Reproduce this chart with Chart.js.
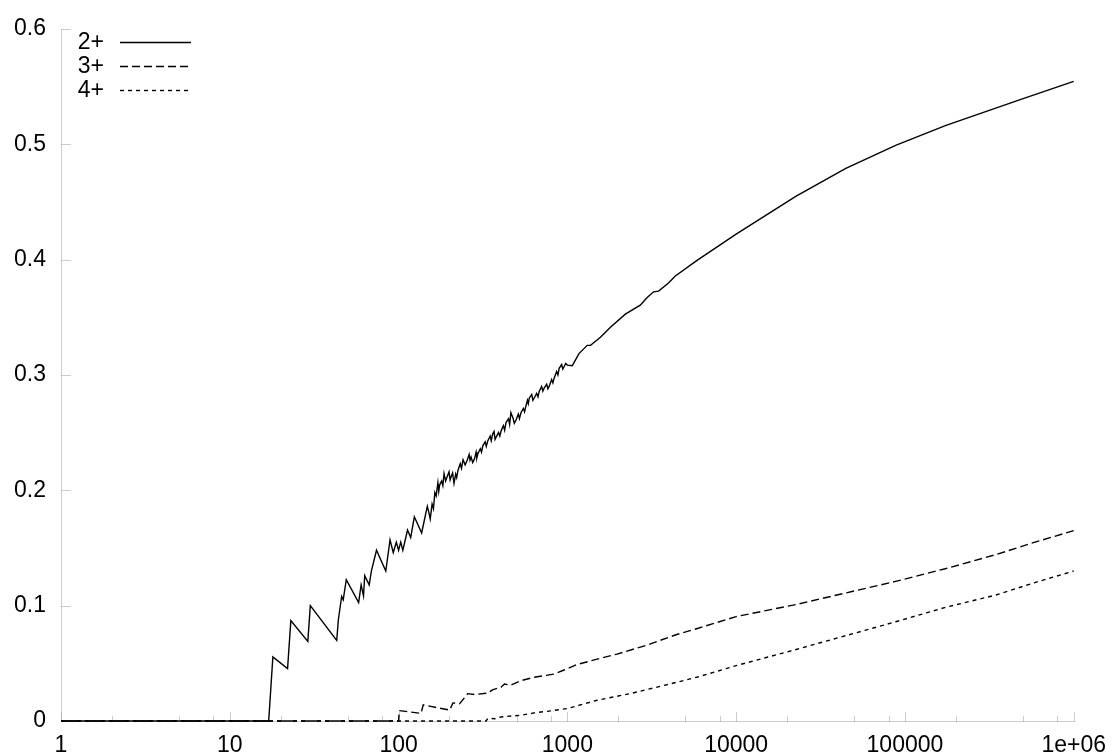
<!DOCTYPE html>
<html>
<head>
<meta charset="utf-8">
<script src="https://cdn.jsdelivr.net/npm/chart.js@4/dist/chart.umd.min.js"></script>
<style>
  html, body { margin: 0; padding: 0; background: #fff; }
  #c { display: block; }
</style>
</head>
<body>
<canvas id="c" width="1117" height="755"></canvas>
<script>
// ---- data ----
const seriesLabels = ["2+", "3+", "4+"];

const x2 = [1, 17, 18, 22, 23, 29, 30, 43, 44, 46, 47, 49, 58, 60, 62, 63, 67, 69, 74, 84, 89, 93, 97, 100, 103, 106, 113, 118, 124, 137,
  148, 151, 154, 158, 161, 164, 167, 171, 173, 175, 180, 183, 186, 190, 194, 199, 202, 205, 209, 213, 218, 221, 225, 232, 236, 241, 248, 255,
  262, 265, 269, 275, 282, 288, 291, 295, 305, 310, 316, 326, 331, 338, 349, 354, 361, 368, 373, 378, 391, 398, 405, 418, 425, 433, 448, 455,
  463, 478, 485, 496, 512, 520, 531, 549, 558, 568, 580, 587, 595, 615, 625, 636, 658, 670, 681, 704, 716, 729, 754, 767, 780, 807, 821, 835,
  864, 879, 894, 925, 940, 956, 978, 1000, 1070, 1172, 1312, 1372, 1571, 1800, 2206, 2704, 2961, 3243, 3470, 3976, 4346, 5838, 10000, 22680,
  44670, 88080, 173600, 491600, 1000000];
const y2 = [0, 0, 0.0556, 0.0455, 0.087, 0.069, 0.100, 0.0698, 0.088, 0.108, 0.105, 0.1225, 0.1026, 0.118, 0.1085, 0.126, 0.118, 0.130, 0.148, 0.130, 0.157, 0.146, 0.155, 0.148, 0.155, 0.148, 0.1655, 0.159, 0.177, 0.163,
  0.186, 0.181, 0.175, 0.188, 0.184, 0.198, 0.195, 0.2066, 0.199, 0.2045, 0.208, 0.204, 0.2145, 0.208, 0.2117, 0.216, 0.209, 0.212, 0.215, 0.206, 0.214, 0.211, 0.2174, 0.223, 0.219, 0.2265, 0.222, 0.226,
  0.231, 0.226, 0.2288, 0.224, 0.2274, 0.233, 0.228, 0.2316, 0.236, 0.233, 0.2387, 0.242, 0.238, 0.243, 0.247, 0.243, 0.2487, 0.251, 0.244, 0.2459, 0.250, 0.247, 0.2515, 0.256, 0.252, 0.2587, 0.262, 0.257,
  0.2672, 0.262, 0.258, 0.2607, 0.266, 0.262, 0.2672, 0.271, 0.268, 0.2729, 0.278, 0.275, 0.280, 0.283, 0.278, 0.280, 0.284, 0.281, 0.2857, 0.290, 0.286, 0.2886, 0.292, 0.288, 0.290, 0.296, 0.293, 0.2972,
  0.303, 0.300, 0.3057, 0.309, 0.305, 0.3071, 0.310, 0.3085, 0.308, 0.3185, 0.3256, 0.3256, 0.3327, 0.3413, 0.3527, 0.3604, 0.3669, 0.372, 0.3726, 0.3797, 0.3855, 0.399, 0.422, 0.455,
  0.479, 0.499, 0.516, 0.539, 0.5544];

const x3 = [1, 100, 101, 136, 140, 201, 210, 230, 257, 282, 338, 360, 405, 424, 460, 531, 636, 729, 835, 956, 1145, 1502, 1970, 2961, 4449, 5838, 10000, 22680, 44670, 88080, 173600, 342200, 588800, 1000000];
const y3 = [0, 0, 0.009, 0.0066, 0.014, 0.0094, 0.0157, 0.015, 0.0237, 0.023, 0.0242, 0.027, 0.0293, 0.032, 0.031, 0.035, 0.0379, 0.0393, 0.0407, 0.0442, 0.049, 0.0536, 0.058, 0.0658, 0.075, 0.080, 0.0905, 0.101, 0.111, 0.121, 0.132, 0.144, 0.155, 0.165];

const x4 = [1, 330, 338, 371, 404, 531, 636, 797, 1000, 1502, 2351, 3729, 5838, 10000, 22680, 44670, 88080, 173600, 342200, 588800, 1000000];
const y4 = [0, 0, 0.0023, 0.002, 0.0035, 0.005, 0.007, 0.0088, 0.0108, 0.018, 0.0237, 0.0308, 0.0379, 0.048, 0.062, 0.074, 0.086, 0.0985, 0.109, 0.120, 0.130];

const xTickValues = [1, 10, 100, 1000, 10000, 100000, 1000000];
const xTickLabels = ["1", "10", "100", "1000", "10000", "100000", "1e+06"];
const xMinorFactors = [2, 5, 8];
const yTickValues = [0, 0.1, 0.2, 0.3, 0.4, 0.5, 0.6];
const yTickLabels = ["0", "0.1", "0.2", "0.3", "0.4", "0.5", "0.6"];

// ---- chart ----
const FONT = { family: "'Liberation Sans', Arial, sans-serif", size: 23 };
const dashes = [[], [8, 4], [4, 4]];

function pts(xs, ys) { return xs.map((x, i) => ({ x: x, y: ys[i] })); }

const allSeries = [pts(x2, y2), pts(x3, y3), pts(x4, y4)];

const axesPlugin = {
  id: 'gnuAxes',
  beforeDatasetsDraw(chart) {
    const ctx = chart.ctx;
    const xs = chart.scales.x, ys = chart.scales.y;
    const L = Math.round(xs.left) + 0.5, B = Math.round(ys.bottom) + 0.5, T = Math.round(ys.top) + 0.5;
    ctx.save();
    ctx.strokeStyle = '#9a9a9a';
    ctx.lineWidth = 1;
    ctx.setLineDash([1, 1]);
    ctx.beginPath();
    ctx.moveTo(L, T); ctx.lineTo(L, B);
    ctx.moveTo(L, B); ctx.lineTo(Math.round(xs.right) + 0.5, B);
    yTickValues.forEach(v => {
      const y = Math.round(ys.getPixelForValue(v)) + 0.5;
      ctx.moveTo(L, y); ctx.lineTo(L + 10, y);
    });
    xTickValues.forEach((v, i) => {
      const x = Math.round(xs.getPixelForValue(v)) + 0.5;
      ctx.moveTo(x, B); ctx.lineTo(x, B - 10);
      if (i < xTickValues.length - 1) {
        xMinorFactors.forEach(f => {
          const xm = Math.round(xs.getPixelForValue(v * f)) + 0.5;
          ctx.moveTo(xm, B); ctx.lineTo(xm, B - 6);
        });
      }
    });
    ctx.stroke();
    ctx.restore();
  },
  afterDatasetsDraw(chart) {
    const ctx = chart.ctx;
    ctx.save();
    ctx.font = FONT.size + "px " + FONT.family;
    ctx.fillStyle = '#000';
    ctx.textAlign = 'right';
    ctx.textBaseline = 'middle';
    chart.data.datasets.forEach((ds, i) => {
      const y = 42 + i * 24;
      ctx.fillText(ds.label, 104, y + 1);
      ctx.strokeStyle = '#000';
      ctx.lineWidth = ds.borderWidth;
      ctx.setLineDash(ds.borderDash || []);
      ctx.beginPath();
      ctx.moveTo(120, y + 0.5);
      ctx.lineTo(191, y + 0.5);
      ctx.stroke();
    });
    ctx.restore();
  }
};

new Chart(document.getElementById('c'), {
  type: 'line',
  data: {
    datasets: seriesLabels.map((lab, i) => ({
      label: lab,
      data: allSeries[i],
      borderColor: '#000',
      borderWidth: 1.4,
      borderDash: dashes[i],
      pointRadius: 0,
      tension: 0,
      fill: false,
      clip: false
    }))
  },
  options: {
    responsive: false,
    animation: false,
    devicePixelRatio: 1,
    layout: { padding: { top: 19, right: 38, left: 0, bottom: 0 } },
    plugins: { legend: { display: false }, tooltip: { enabled: false } },
    scales: {
      x: {
        type: 'logarithmic',
        min: 1, max: 1000000,
        position: 'bottom',
        grid: { display: false, drawTicks: false },
        border: { display: false },
        ticks: {
          font: FONT, color: '#000', padding: 11,
          autoSkip: false, maxRotation: 0, minRotation: 0,
          callback: (v, i) => xTickLabels[i]
        },
        afterBuildTicks: s => { s.ticks = xTickValues.map(v => ({ value: v })); },
        afterFit: s => { s.height = 34; }
      },
      y: {
        type: 'linear',
        min: 0, max: 0.6,
        grid: { display: false, drawTicks: false },
        border: { display: false },
        ticks: {
          font: FONT, color: '#000', padding: 15,
          callback: (v, i) => yTickLabels[i]
        },
        afterBuildTicks: s => { s.ticks = yTickValues.map(v => ({ value: v })); },
        afterFit: s => { s.width = 61; }
      }
    }
  },
  plugins: [axesPlugin]
});
</script>
</body>
</html>
